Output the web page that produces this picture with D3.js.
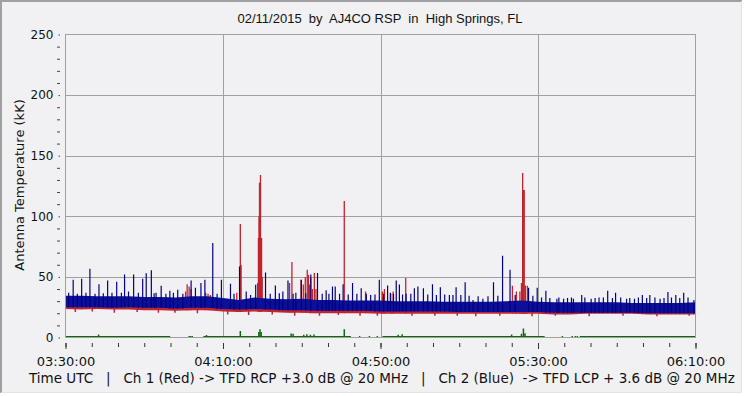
<!DOCTYPE html>
<html>
<head>
<meta charset="utf-8">
<script src="https://cdn.jsdelivr.net/npm/d3@7"></script>
<style>
  body { margin: 0; background: #fff; }
  svg text { white-space: pre; }
</style>
</head>
<body>
<svg id="chart" width="747" height="396"></svg>
<script>
/* RSP antenna temperature plot, D3 */

const TITLE   = "02/11/2015  by  AJ4CO RSP  in  High Springs, FL";
const FOOTER  = "Time UTC   |   Ch 1 (Red) -> TFD RCP +3.0 dB @ 20 MHz   |   Ch 2 (Blue)  -> TFD LCP + 3.6 dB @ 20 MHz";
const Y_LABEL = "Antenna Temperature (kK)";

const xTickLabels = ["03:30:00", "04:10:00", "04:50:00", "05:30:00", "06:10:00"];
const yTickValues = [0, 50, 100, 150, 200, 250];

// noise band of both channels, minutes after 03:30 UTC (kK)
const bandMin = [0,4,8,12,16,20,24,28,32,36,40,44,48,52,56,60,64,68,72,76,80,84,88,92,96,100,104,108,112,116,120,124,128,132,136,140,144,148,152,156,160];
const blueHi  = [34.5,34.5,34,34,34,33.5,33.5,33,34,34,32.5,31,33,32,31.5,32,31,31,30.5,30.5,30.5,30,30,30,29.5,29.5,29.5,29.5,30,30.5,29.5,29,29,29,29,29,28.5,28.5,28.5,28.5,29];
const blueLo  = [25,25,25,24.5,25,24.5,24.5,24,24.5,24.5,23.5,23,23.5,23,22.5,22.5,22,22,22,22,21.5,21.5,21.5,21.5,21.5,21,21,21,21,21,21,20.5,20.5,20.5,20.5,20.5,20.5,20,20,20,20];
const redLo   = [23.5,23,23.5,23,23,22.5,22.5,22,22.5,22.5,21.5,21,21.5,21,20.5,20.5,20,20,20,20,19.5,19.5,19.5,19.5,19.5,19.5,19.5,19.5,19.5,19.5,19.5,19,19,19.5,19.5,19.5,19.5,19,19,19,19];

// spikes [minute, peak kK]
const blueSpikes = [
  [1.95,47.7],[3.0,36],[4.1,48.5],[6.2,56.7],[7.5,36],[8.5,44],[10.7,47],[11.8,37],[13,46],[15,52],
  [16,38],[17.3,52],[18.5,37],[19.6,48.5],[20.5,53],[21.8,55.4],[23,37],[24.3,42.8],[25.5,36],[26.5,38.6],
  [28.5,39.5],[29.8,36],[31.9,47],[33,41],[34.4,45],[35.4,47.7],[37.4,78],[39.6,47.7],[41.9,44.4],[44.2,58.6],
  [45.9,38],[48.3,43.6],[50.8,53.7],[53.3,43],[55.2,38],[56.5,47],[58.5,37],[59.9,47.7],[62.3,52],[64,53.2],
  [65.2,36],[66.2,39],[67.8,42],[68.5,42],[70.5,44],[72.9,45],[75.1,40.7],[77.5,35],[79.7,47.7],[81.8,43],
  [82.5,37],[84,47],[84.8,43.7],[86.5,36],[88.6,40.7],[89.5,42],[90.9,40.7],[93.2,44],[95.2,41.4],[97.5,35],
  [99.2,41.4],[101.5,45.6],[103.5,31],[106,32],[108.7,45.5],[111,67.4],[112.9,56],[117.6,41],[119.8,41],[122,38.6],
  [124.8,32],[126.5,32],[129,32],[131.1,35],[133.5,32],[135.5,33],[137.7,38.6],[139.7,37],[142.5,32],[144.5,32],
  [146.5,35],[148.4,35],[151,32],[153,37.6],[155,35],[157,37],[159.6,31],
  [120.9,33],[123,32.5],[125.3,33],[127.5,32.5],[128.5,33],[131.9,33],[134.5,32.5],[136.6,33],[138.9,32.5],
  [141,33],[143.3,32.5],[145.5,33],[147.6,32.5],[149.7,33],[152,32.5],[153.9,33],[156,32.5],[158.1,33],
  [0.8,37],[5.2,37],[9.6,36.5],[14.2,37],[22.5,36.5],[27.4,37],[38.5,36],[42.8,36],[47,35],[52,36],
  [54.3,36.5],[57.8,36],[61,36.5],[66.9,36],[69.6,36],[71.8,35.5],[74,36],[76.4,36],[78.6,35.5],[80.8,36],
  [83.3,36],[85.6,35.5],[87.7,36],[92,35.5],[94.2,35],[96.3,35.5],[98.4,35],[100.4,35],[102.5,34.5],[104.8,34],
  [107.3,34],[109.8,34.5],[114.2,35],[118.7,34.5]
];
const redSpikes = [
  [30.5,38],[30.9,44],[31.4,42],[31.9,40],[35.6,37],[36.2,36],[36.8,35],[43.5,37],[44.4,93.7],[44.6,60],
  [48.8,45],[49.0,82],[49.15,100],[49.27,127.7],[49.4,110],[49.52,134],[49.65,82],[49.8,82],[49.95,50],
  [56.9,45],[57.5,62.2],[59.8,47.7],[60.4,43.8],[60.9,50],[61.4,56],[61.7,51.8],[62.0,43.8],[62.3,49],[62.7,40],
  [63.2,53.2],[63.6,40],[70.8,112.7],[76.2,38],[80.5,38],[81.0,40],[82.6,36],[83.2,38],[86.4,49],
  [113.5,42.8],[114.5,38],[115.4,38],[115.8,45],[116.1,135.7],[116.3,121.7],[116.5,121.7],[116.8,43],[117.3,42.8]
];
// short downward excursions of Ch 1 below its band [minute, low kK]
const redDips = [
  [2.5,21],[6.8,21.5],[12.4,20.5],[18.2,21],[23.6,20.5],[27.8,20.5],[33.5,20],[41.2,19],[46.5,18.5],[52.5,19],
  [58.2,18],[64.5,18],[69.3,18.5],[74.8,18],[79.2,18],[88,18],[93.8,18],[99.5,18],[104.2,17.5],[110.3,18],
  [118.5,17.5],[124.4,18],[133,17.5],[141.6,18],[150.2,17.5],[158.4,18]
];

// difference trace (green)
const greenLevel    = 0.6;
const greenSegments = [[0,26.6],[35.0,72.5],[80.5,121.7],[130.6,160]];
const greenDots     = [31.2,31.6,32.0,74.5,77,79,126,128.5,129.3,129.8];
const greenBumps    = [
  [8.4,2.5],[35.8,2],[44.4,5.4],[49.1,4.5],[49.4,6.8],[49.7,4.5],[57.3,3.3],[57.8,3],[60.5,2.3],[61.3,2.6],
  [62.2,2.3],[63.1,2.5],[70.8,6.8],[84.5,2.3],[85.5,2.6],[113.3,2.5],[115.8,3],[116.3,7.5],[116.7,3.5]
];

const BLUE = "#0c0f98", BLUE_SPIKE = "#02027e", RED = "#c0242e", GREEN = "#0a6c0a";
const BG = "#f1f1f4", GRID = "#a0a0a0";

const svg = d3.select("#chart");

// window frame
svg.append("rect").attr("x", 0).attr("y", 0).attr("width", 742).attr("height", 393).attr("fill", BG);
svg.append("path").attr("d", "M1,393V1H742").attr("fill", "none").attr("stroke", "#a0a0a0").attr("stroke-width", 2);
svg.append("path").attr("d", "M741.5,1V392.5H1").attr("fill", "none").attr("stroke", "#e4e4e4");

const t0 = Date.UTC(2015, 1, 11, 3, 30);
const toDate = m => new Date(t0 + m * 60000);
const parseT = d3.utcParse("%Y-%m-%d %H:%M:%S");
const majorDates = xTickLabels.map(s => parseT("2015-02-11 " + s));
const minorDates = d3.range(25).map(i => toDate(i * 20 / 3));

const x = d3.scaleUtc().domain([toDate(0), toDate(160)]).range([65.5, 695.5]);
const y = d3.scaleLinear().domain([0, 250]).range([337.5, 34.5]);

// grid
const grid = svg.append("g").attr("stroke", GRID).attr("stroke-width", 1);
majorDates.slice(1, -1).forEach(d =>
  grid.append("line").attr("x1", Math.round(x(d)) + 0.5).attr("x2", Math.round(x(d)) + 0.5).attr("y1", y(0)).attr("y2", y(250)));
yTickValues.slice(1, -1).forEach(v =>
  grid.append("line").attr("x1", x.range()[0]).attr("x2", x.range()[1]).attr("y1", Math.round(y(v)) + 0.5).attr("y2", Math.round(y(v)) + 0.5));

svg.append("clipPath").attr("id", "plot").append("rect")
  .attr("x", 65.5).attr("y", 34.5).attr("width", 630).attr("height", 303);
const plot = svg.append("g").attr("clip-path", "url(#plot)");

const band = bandMin.map((m, i) => ({ m, hi: blueHi[i], lo: blueLo[i], rlo: redLo[i] }));
const nearest = m => band[Math.max(0, Math.min(band.length - 1, Math.round(m / 4)))];

// Ch 1 red
plot.append("path").datum(band)
  .attr("fill", RED)
  .attr("d", d3.area().x(d => x(toDate(d.m))).y0(d => y(d.rlo)).y1(d => y(d.hi - 1)));
plot.append("g").selectAll("line").data(redDips).join("line")
  .attr("x1", d => x(toDate(d[0]))).attr("x2", d => x(toDate(d[0])))
  .attr("y1", d => y(nearest(d[0]).lo)).attr("y2", d => y(d[1]))
  .attr("stroke", RED).attr("stroke-width", 1.5);
plot.append("g").selectAll("line").data(redSpikes).join("line")
  .attr("x1", d => x(toDate(d[0]))).attr("x2", d => x(toDate(d[0])))
  .attr("y1", d => y(nearest(d[0]).rlo)).attr("y2", d => y(d[1]))
  .attr("stroke", RED).attr("stroke-width", 1.3);

// Ch 2 blue
plot.append("path").datum(band)
  .attr("fill", BLUE)
  .attr("d", d3.area().x(d => x(toDate(d.m))).y0(d => y(d.lo)).y1(d => y(d.hi)));
plot.append("g").selectAll("line").data(blueSpikes).join("line")
  .attr("x1", d => x(toDate(d[0]))).attr("x2", d => x(toDate(d[0])))
  .attr("y1", d => y(nearest(d[0]).lo)).attr("y2", d => y(d[1]))
  .attr("stroke", BLUE_SPIKE).attr("stroke-width", 1.2);

// difference (green)
const g = plot.append("g").attr("stroke", GREEN);
g.selectAll(".seg").data(greenSegments).join("line").attr("class", "seg")
  .attr("x1", d => x(toDate(d[0]))).attr("x2", d => x(toDate(d[1])))
  .attr("y1", y(greenLevel)).attr("y2", y(greenLevel)).attr("stroke-width", 1.6);
g.selectAll(".dot").data(greenDots).join("line").attr("class", "dot")
  .attr("x1", d => x(toDate(d))).attr("x2", d => x(toDate(d)) + 1.5)
  .attr("y1", y(greenLevel)).attr("y2", y(greenLevel)).attr("stroke-width", 1.6);
g.selectAll(".bump").data(greenBumps).join("line").attr("class", "bump")
  .attr("x1", d => x(toDate(d[0]))).attr("x2", d => x(toDate(d[0])))
  .attr("y1", y(greenLevel)).attr("y2", d => y(d[1])).attr("stroke-width", 1.5);

// frame
svg.append("rect").attr("x", 65.5).attr("y", 34.5).attr("width", 630).attr("height", 303)
  .attr("fill", "none").attr("stroke", GRID);

// x axis
const fmt = d3.utcFormat("%H:%M:%S");
const xMinor = svg.append("g").attr("transform", "translate(0,343)")
  .call(d3.axisBottom(x).tickValues(minorDates).tickFormat("").tickSize(4).tickSizeOuter(0));
const xMajor = svg.append("g").attr("transform", "translate(0,343)")
  .call(d3.axisBottom(x).tickValues(majorDates).tickFormat(fmt).tickSize(6).tickSizeOuter(0).tickPadding(8));
[xMinor, xMajor].forEach(a => {
  a.select(".domain").remove();
  a.selectAll("line").attr("stroke", "#333");
});
xMajor.selectAll("text").attr("font-family", "DejaVu Sans").attr("font-size", 13).attr("fill", "#111");

// y axis
const yMinor = svg.append("g").attr("transform", "translate(60,0)")
  .call(d3.axisLeft(y).tickValues(d3.range(0, 251, 10).filter(v => v % 50 !== 0)).tickFormat("").tickSize(3).tickSizeOuter(0));
const yMajor = svg.append("g").attr("transform", "translate(60,0)")
  .call(d3.axisLeft(y).tickValues(yTickValues).tickSize(1.5).tickSizeOuter(0).tickPadding(5));
[yMinor, yMajor].forEach(a => {
  a.select(".domain").remove();
  a.selectAll("line").attr("stroke", "#444");
});
yMajor.selectAll("text").attr("font-family", "DejaVu Sans").attr("font-size", 12).attr("fill", "#111");

// labels
svg.append("text").attr("x", 380).attr("y", 23).attr("text-anchor", "middle")
  .attr("font-family", "Liberation Sans").attr("font-size", 13).attr("fill", "#111").text(TITLE);
svg.append("text").attr("transform", "translate(24,185) rotate(-90)").attr("text-anchor", "middle")
  .attr("font-family", "DejaVu Sans").attr("font-size", 13).attr("fill", "#111").text(Y_LABEL);
svg.append("text").attr("x", 29).attr("y", 383)
  .attr("font-family", "DejaVu Sans").attr("font-size", 13.5).attr("fill", "#111").text(FOOTER);
</script>
</body>
</html>
